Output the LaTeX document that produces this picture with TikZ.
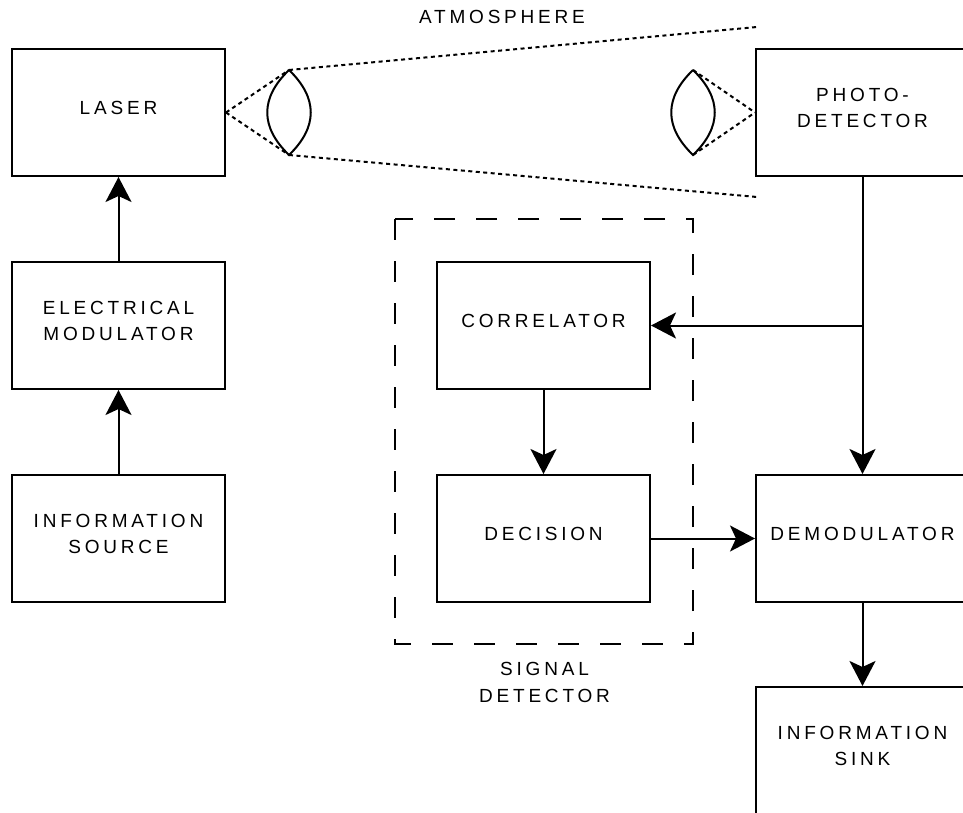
\documentclass[tikz,border=0pt]{standalone}
\usepackage{fontspec}
\newfontfamily\lblfont{Liberation Sans}[LetterSpace=20]
\usetikzlibrary{arrows.meta}
\tikzset{
  blk/.style={draw, line width=2pt, minimum width=213pt, minimum height=127pt, inner sep=0pt, fill=white},
  txt/.style={align=center, inner sep=0pt, font=\lblfont\fontsize{19}{26.5}\selectfont},
  conn/.style={line width=2pt, -{Stealth[length=25pt,width=26pt,inset=6pt]}},
  dotline/.style={line width=2pt, dash pattern=on 4pt off 3.5pt},
  lensline/.style={line width=2pt},
  grp/.style={line width=2pt, dash pattern=on 21pt off 21pt}
}
\begin{document}
\begin{tikzpicture}[x=1pt,y=-1pt]
\useasboundingbox (0,0) rectangle (963,813);
% boxes
\node[blk] (laser) at (118.5,112.5) {};
\node[blk] (emod) at (118.5,325.5) {};
\node[blk] (isrc) at (118.5,538.5) {};
\node[blk] (photo) at (862.5,112.5) {};
\node[blk] (corr) at (543.5,325.5) {};
\node[blk] (dec) at (543.5,538.5) {};
\node[blk] (demod) at (862.5,538.5) {};
\node[blk] (sink) at (862.5,750.5) {};
% texts
\node[txt] (tlaser) at ([yshift=4.5pt]laser.center) {LASER};
\node[txt] (temod) at ([yshift=4.5pt]emod.center) {ELECTRICAL\\MODULATOR};
\node[txt] (tisrc) at ([yshift=4.5pt]isrc.center) {INFORMATION\\SOURCE};
\node[txt] (tphoto) at ([yshift=4.5pt]photo.center) {PHOTO-\\DETECTOR};
\node[txt] (tcorr) at ([yshift=4.5pt]corr.center) {CORRELATOR};
\node[txt] (tdec) at ([yshift=4.5pt]dec.center) {DECISION};
\node[txt] (tdemod) at ([yshift=4.5pt]demod.center) {DEMODULATOR};
\node[txt] (tsink) at ([yshift=4.5pt]sink.center) {INFORMATION\\SINK};
\node[txt] (tatm) at (502,17) {ATMOSPHERE};
\node[txt] (tsig) at (544.5,682.5) {SIGNAL\\DETECTOR};
% signal detector group
\draw[grp] (395,219) rectangle (693,644);
% lenses
\coordinate (l1t) at (289,70);
\coordinate (l1b) at (289,155);
\coordinate (l2t) at (693,70);
\coordinate (l2b) at (693,155);
\coordinate (ptop) at (757,27);
\coordinate (pbot) at (757,197);
\draw[lensline] (l1t) .. controls (260,98) and (260,127) .. (l1b)
                      .. controls (318,127) and (318,98) .. (l1t);
\draw[lensline] (l2t) .. controls (664,98) and (664,127) .. (l2b)
                      .. controls (722,127) and (722,98) .. (l2t);
% dotted beams
\draw[dotline] (laser.east) -- (l1t);
\draw[dotline] (laser.east) -- (l1b);
\draw[dotline] (l1t) -- (ptop);
\draw[dotline] (l1b) -- (pbot);
\draw[dotline] (l2t) -- (photo.west);
\draw[dotline] (l2b) -- (photo.west);
% connectors
\draw[conn] (isrc.north) -- (emod.south);
\draw[conn] (emod.north) -- (laser.south);
\draw[conn] (photo.south) -- (demod.north);
\coordinate (br) at (photo.south |- corr.east);
\draw[conn] (br) -- (corr.east);
\draw[conn] (corr.south) -- (dec.north);
\draw[conn] (dec.east) -- (demod.west);
\draw[conn] (demod.south) -- (sink.north);
\end{tikzpicture}
\end{document}
